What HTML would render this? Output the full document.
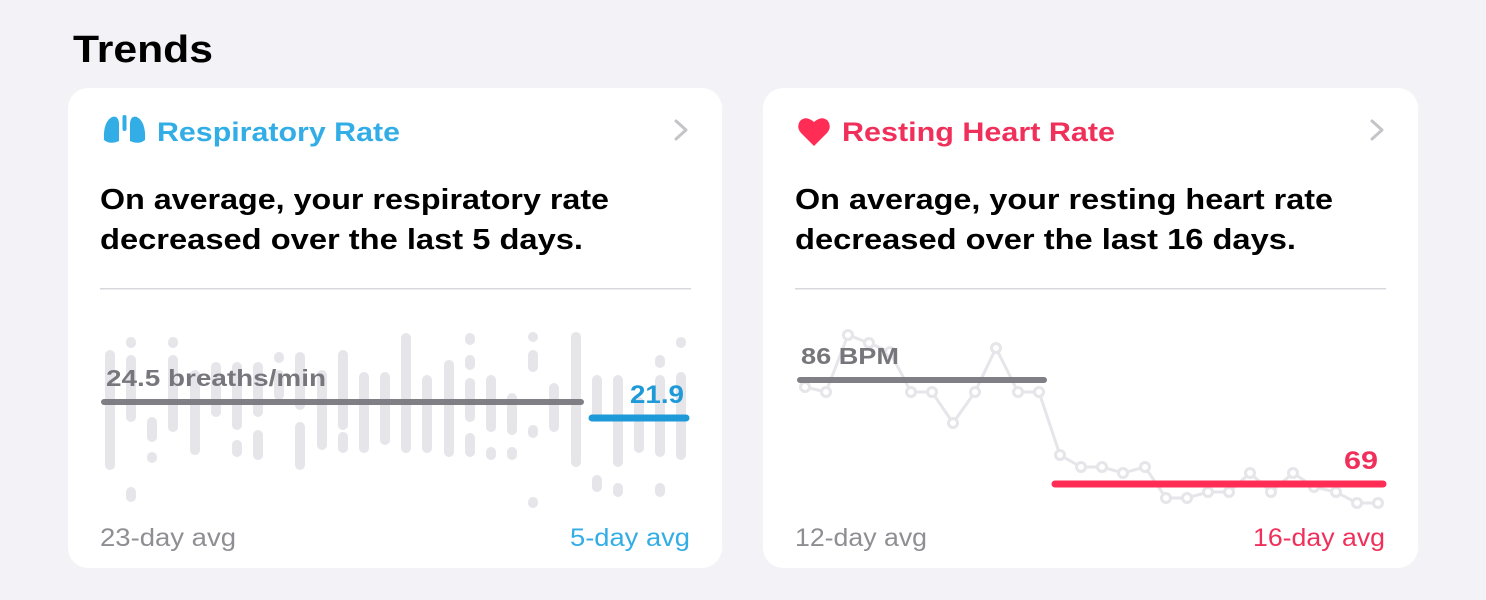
<!DOCTYPE html>
<html><head><meta charset="utf-8"><style>
html,body{margin:0;padding:0;background:#f2f2f7;}
svg{display:block;font-family:"Liberation Sans",sans-serif;}
</style></head><body>
<svg width="1486" height="600" viewBox="0 0 1486 600" xmlns="http://www.w3.org/2000/svg">
<rect width="1486" height="600" fill="#f2f2f7"/>
<text x="73" y="62" font-size="38" font-weight="bold" fill="#000" textLength="140" lengthAdjust="spacingAndGlyphs">Trends</text>
<rect x="68" y="88" width="654" height="480" rx="20" fill="#fff"/>
<rect x="763" y="88" width="655" height="480" rx="20" fill="#fff"/>
<g fill="#32ade6">
<path d="M104 140 Q103 122 112 117 Q118 115 119 123 L119 141 Q110 145 104 140Z"/>
<path d="M145 140 Q146 122 137 117 Q131 115 130 123 L130 141 Q139 145 145 140Z"/>
<rect x="122.5" y="115" width="4" height="16" rx="2"/>
</g>
<text x="157" y="141" font-size="27" font-weight="bold" fill="#32ade6" textLength="243" lengthAdjust="spacingAndGlyphs">Respiratory Rate</text>
<path d="M676 121 L686 130 L676 139" stroke="#c4c4c9" stroke-width="3" fill="none" stroke-linecap="round" stroke-linejoin="round"/>
<text x="100" y="209" font-size="29" font-weight="bold" fill="#000" textLength="509" lengthAdjust="spacingAndGlyphs">On average, your respiratory rate</text>
<text x="100" y="249" font-size="29" font-weight="bold" fill="#000" textLength="483" lengthAdjust="spacingAndGlyphs">decreased over the last 5 days.</text>
<rect x="100" y="288" width="591" height="1.5" fill="#d8d8dc"/>
<g stroke="#e5e5ea" stroke-width="10" stroke-linecap="round">
<path d="M110 355V465"/>
<path d="M131 342V343M131 360V417M131 492V497"/>
<path d="M152 422V437M152 457V458"/>
<path d="M173 342V343M173 360V427"/>
<path d="M195 375V450"/>
<path d="M216 367V412"/>
<path d="M237 367V425M237 445V452"/>
<path d="M258 367V412M258 435V455"/>
<path d="M279 357V358M279 375V395"/>
<path d="M300 357V405M300 427V465"/>
<path d="M322 375V445"/>
<path d="M343 355V425M343 437V448"/>
<path d="M364 377V448"/>
<path d="M385 377V440"/>
<path d="M406 338V448"/>
<path d="M427 380V448"/>
<path d="M449 365V452"/>
<path d="M470 338V340M470 360V365M470 383V417M470 438V452"/>
<path d="M491 380V427M491 452V455"/>
<path d="M512 398V430M512 452V455"/>
<path d="M533 337V337M533 355V367M533 430V433M533 502V503"/>
<path d="M554 388V427"/>
<path d="M576 337V462"/>
<path d="M597 380V417M597 480V487"/>
<path d="M618 380V462M618 488V492"/>
<path d="M639 402V448"/>
<path d="M660 360V363M660 380V452M660 488V492"/>
<path d="M681 342V343M681 377V455"/>
</g>
<text x="106" y="386" font-size="23" font-weight="bold" fill="#77767c" textLength="220" lengthAdjust="spacingAndGlyphs">24.5 breaths/min</text>
<line x1="104" y1="402" x2="581" y2="402" stroke="#7a797f" stroke-width="6" stroke-linecap="round" opacity="0.95"/>
<text x="630" y="403" font-size="25" font-weight="bold" fill="#1f9ad8" textLength="54" lengthAdjust="spacingAndGlyphs">21.9</text>
<line x1="592" y1="418" x2="686" y2="418" stroke="#1f9ad8" stroke-width="7" stroke-linecap="round"/>
<text x="100" y="546" font-size="25" fill="#8e8e93" textLength="136" lengthAdjust="spacingAndGlyphs">23-day avg</text>
<text x="570" y="546" font-size="25" fill="#32ade6" textLength="120" lengthAdjust="spacingAndGlyphs">5-day avg</text>
<path d="M814 146 L801 133 Q796 127 800 121 Q806 115 814 122 Q822 115 828 121 Q832 127 827 133 Z" fill="#ff2d55"/>
<text x="842" y="141" font-size="27" font-weight="bold" fill="#f0305a" textLength="273" lengthAdjust="spacingAndGlyphs">Resting Heart Rate</text>
<path d="M1372 121 L1382 130 L1372 139" stroke="#c4c4c9" stroke-width="3" fill="none" stroke-linecap="round" stroke-linejoin="round"/>
<text x="795" y="209" font-size="29" font-weight="bold" fill="#000" textLength="538" lengthAdjust="spacingAndGlyphs">On average, your resting heart rate</text>
<text x="795" y="249" font-size="29" font-weight="bold" fill="#000" textLength="501" lengthAdjust="spacingAndGlyphs">decreased over the last 16 days.</text>
<rect x="795" y="288" width="591" height="1.5" fill="#d8d8dc"/>
<g stroke="#e5e5ea" stroke-width="3" fill="#fff">
<polyline fill="none" points="805,387 826,392 848,335 869,343 890,352 911,392 932,392 953,423 975,392 996,348 1018,392 1039,392 1060,455 1081,467 1102,467 1123,473 1145,467 1166,498 1187,498 1208,492 1229,492 1250,473 1271,492 1293,473 1314,487 1336,492 1357,503 1378,503"/>
<circle cx="805" cy="387" r="4.5"/><circle cx="826" cy="392" r="4.5"/><circle cx="848" cy="335" r="4.5"/><circle cx="869" cy="343" r="4.5"/><circle cx="890" cy="352" r="4.5"/><circle cx="911" cy="392" r="4.5"/><circle cx="932" cy="392" r="4.5"/><circle cx="953" cy="423" r="4.5"/><circle cx="975" cy="392" r="4.5"/><circle cx="996" cy="348" r="4.5"/><circle cx="1018" cy="392" r="4.5"/><circle cx="1039" cy="392" r="4.5"/><circle cx="1060" cy="455" r="4.5"/><circle cx="1081" cy="467" r="4.5"/><circle cx="1102" cy="467" r="4.5"/><circle cx="1123" cy="473" r="4.5"/><circle cx="1145" cy="467" r="4.5"/><circle cx="1166" cy="498" r="4.5"/><circle cx="1187" cy="498" r="4.5"/><circle cx="1208" cy="492" r="4.5"/><circle cx="1229" cy="492" r="4.5"/><circle cx="1250" cy="473" r="4.5"/><circle cx="1271" cy="492" r="4.5"/><circle cx="1293" cy="473" r="4.5"/><circle cx="1314" cy="487" r="4.5"/><circle cx="1336" cy="492" r="4.5"/><circle cx="1357" cy="503" r="4.5"/><circle cx="1378" cy="503" r="4.5"/>
</g>
<text x="801" y="364" font-size="23" font-weight="bold" fill="#77767c" textLength="98" lengthAdjust="spacingAndGlyphs">86 BPM</text>
<line x1="800" y1="380" x2="1044" y2="380" stroke="#7a797f" stroke-width="6" stroke-linecap="round" opacity="0.95"/>
<text x="1344" y="469" font-size="25" font-weight="bold" fill="#f0305a" textLength="34" lengthAdjust="spacingAndGlyphs">69</text>
<line x1="1055" y1="484" x2="1383" y2="484" stroke="#ff2d55" stroke-width="7" stroke-linecap="round"/>
<text x="795" y="546" font-size="25" fill="#8e8e93" textLength="132" lengthAdjust="spacingAndGlyphs">12-day avg</text>
<text x="1253" y="546" font-size="25" fill="#f0305a" textLength="132" lengthAdjust="spacingAndGlyphs">16-day avg</text>
</svg>
</body></html>
